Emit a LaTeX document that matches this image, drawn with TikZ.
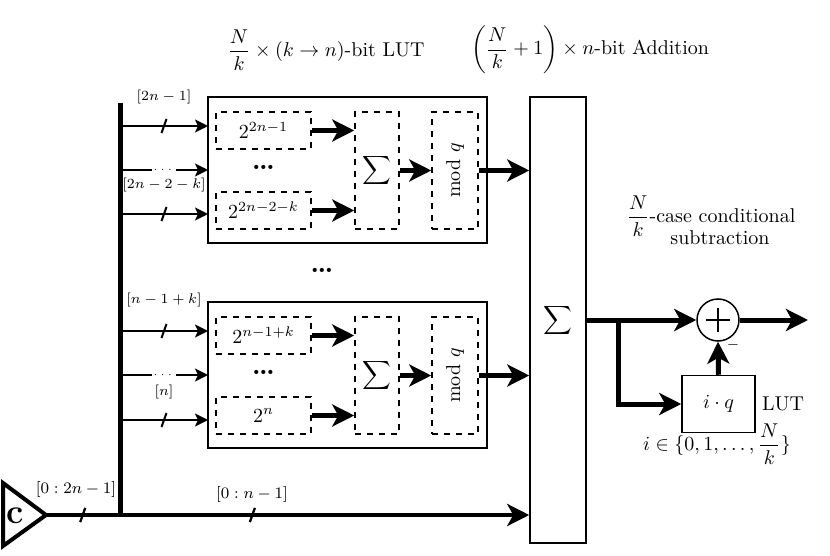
\documentclass[tikz,border=0pt]{standalone}
\usepackage{amsmath}
\usetikzlibrary{arrows.meta,decorations.markings}
\newlength{\du}
\setlength{\du}{0.5pt}
\tikzset{
  outerbox/.style={draw, line width=0.75pt, minimum width=279\du, minimum height=146\du, inner sep=0pt},
  tablebox/.style={draw, dashed, line width=0.75pt, minimum width=95\du, minimum height=37\du, inner sep=0pt},
  addbox/.style={draw, dashed, line width=0.75pt, minimum width=44\du, minimum height=117\du, inner sep=0pt},
  modbox/.style={draw, dashed, line width=0.75pt, minimum width=46\du, minimum height=117\du, inner sep=0pt,
    label={[rotate=90]center:mod $q$}},
  thinarrow/.style={line width=1pt, -{Stealth[length=6.5pt,width=6.5pt,inset=1.5pt]}},
  thickarrow/.style={line width=2.5pt, -{Stealth[length=11pt,width=11pt,inset=3pt]}},
  bustick/.style={postaction={decorate}, decoration={markings,
    mark=at position #1 with {\draw[line width=1pt,-] (-1.25pt,-3.5pt) -- (1.25pt,3.5pt);}}},
  buslabel/.style={font=\fontsize{6.6}{7}\selectfont, inner sep=1pt},
  busdots/.style={fill=white, inner sep=0.5pt, font=\tiny},
  bigdots/.style={font=\Large\bfseries},
}
\begin{document}
\begin{tikzpicture}
\pgftransformxscale{1.000000}
\pgftransformyscale{-1.000000}
\useasboundingbox (0\du,0\du) rectangle (830\du,556\du);
% titles
\node (titleLut) at (326\du,50\du){$\dfrac{N}{k}\times(k\to n)$-bit LUT};
\node (titleAdd) at (590\du,50\du){$\left(\dfrac{N}{k}+1\right)\times n$-bit Addition};
% upper LUT block
\node[outerbox] (lutA) at (347.5\du,170\du){};
\node[tablebox] (tabAa) at (263.5\du,130.5\du){$2^{2n-1}$};
\node[bigdots] (dotsA) at (263.5\du,167\du){\dots};
\node[tablebox] (tabAb) at (263.5\du,210.5\du){$2^{2n-2-k}$};
\node[addbox] (addA) at (377\du,170.5\du){$\displaystyle\sum$};
\node[modbox] (modA) at (455\du,170.5\du){};
% lower LUT block
\node[outerbox] (lutB) at (347.5\du,375\du){};
\node[tablebox] (tabBa) at (263.5\du,335.5\du){$2^{n-1+k}$};
\node[bigdots] (dotsB) at (263.5\du,372\du){\dots};
\node[tablebox] (tabBb) at (263.5\du,415.5\du){$2^{n}$};
\node[addbox] (addB) at (377\du,375.5\du){$\displaystyle\sum$};
\node[modbox] (modB) at (455\du,375.5\du){};
\node[bigdots] (dotsMid) at (322\du,270\du){\dots};
% big adder
\node[draw, line width=0.75pt, minimum width=56\du, minimum height=446\du] (big) at (558\du,320\du){$\displaystyle\sum$};
% source and bus
\draw[line width=2pt, line join=miter] (3\du,483\du)--(3\du,546\du)--(46\du,515\du)--cycle;
\node (srcLbl) at (15\du,516\du){\LARGE\bfseries c};
\coordinate (srcTip) at (46\du,515\du);
\coordinate (busTop) at (120\du,103\du);
\coordinate (busBot) at (120\du,515\du);
\draw[line width=2.5pt] (busTop)--(busBot);
\draw[line width=2pt, -{Stealth[length=11pt,width=11pt,inset=3pt]}, bustick=0.076, bustick=0.427] (srcTip)--(srcTip -| big.west);
\node[font=\footnotesize] (lblAll) at (76\du,489\du){$[0:2n-1]$};
\node[font=\footnotesize] (lblLow) at (252\du,494\du){$[0:n-1]$};
% inputs of the upper block
\coordinate (inAa) at (208\du,126\du);
\coordinate (inAb) at (208\du,170\du);
\coordinate (inAc) at (208\du,214\du);
\draw[thinarrow, bustick=0.5] (busTop |- inAa)--(inAa);
\draw[thinarrow] (busTop |- inAb)--node[busdots]{$\cdots$}(inAb);
\draw[thinarrow, bustick=0.5] (busTop |- inAc)--(inAc);
\node[buslabel] (lblAa) at (164\du,97\du){$[2n-1]$};
\node[buslabel] (lblAb) at (164\du,185\du){$[2n-2-k]$};
% inputs of the lower block
\coordinate (inBa) at (208\du,331\du);
\coordinate (inBb) at (208\du,375\du);
\coordinate (inBc) at (208\du,420\du);
\draw[thinarrow, bustick=0.5] (busTop |- inBa)--(inBa);
\draw[thinarrow] (busTop |- inBb)--node[busdots]{$\cdots$}(inBb);
\draw[thinarrow, bustick=0.5] (busTop |- inBc)--(inBc);
\node[buslabel] (lblBa) at (164\du,300\du){$[n-1+k]$};
\node[buslabel] (lblBb) at (164\du,392\du){$[n]$};
% inside the blocks
\draw[thickarrow] (tabAa.east)--(tabAa.east -| addA.west);
\draw[thickarrow] (tabAb.east)--(tabAb.east -| addA.west);
\draw[thickarrow] (addA.east)--(modA.west);
\draw[thickarrow] (modA.east)--(modA.east -| big.west);
\draw[thickarrow] (tabBa.east)--(tabBa.east -| addB.west);
\draw[thickarrow] (tabBb.east)--(tabBb.east -| addB.west);
\draw[thickarrow] (addB.east)--(modB.west);
\draw[thickarrow] (modB.east)--(modB.east -| big.west);
% conditional subtraction
\node (condA) at (711\du,216\du){$\dfrac{N}{k}$-case conditional};
\node (condB) at (720\du,238\du){subtraction};
\node[circle, draw, line width=0.75pt, minimum size=42\du, inner sep=0pt,
  path picture={\draw[line width=0.75pt] ([xshift=-6pt]path picture bounding box.center)--([xshift=6pt]path picture bounding box.center)
  ([yshift=-6pt]path picture bounding box.center)--([yshift=6pt]path picture bounding box.center);}] (sub) at (718\du,320\du){};
\node[draw, line width=0.75pt, minimum width=73\du, minimum height=57\du] (lut) at (718.5\du,404\du){$i\cdot q$};
\node (lutLbl) at (783\du,404\du){LUT};
\node (lutRange) at (717\du,444\du){$i\in\{0,1,\dots,\dfrac{N}{k}\}$};
\node[font=\scriptsize] (minus) at (733\du,345\du){$-$};
\coordinate (split) at (618\du,320\du);
\coordinate (out) at (808\du,320\du);
\draw[thickarrow] (big.east |- sub)--(sub.west);
\draw[thickarrow] (split) |- (lut.west);
\draw[thickarrow] (lut.north)--(sub.south);
\draw[thickarrow] (sub.east)--(out);
\end{tikzpicture}
\end{document}
